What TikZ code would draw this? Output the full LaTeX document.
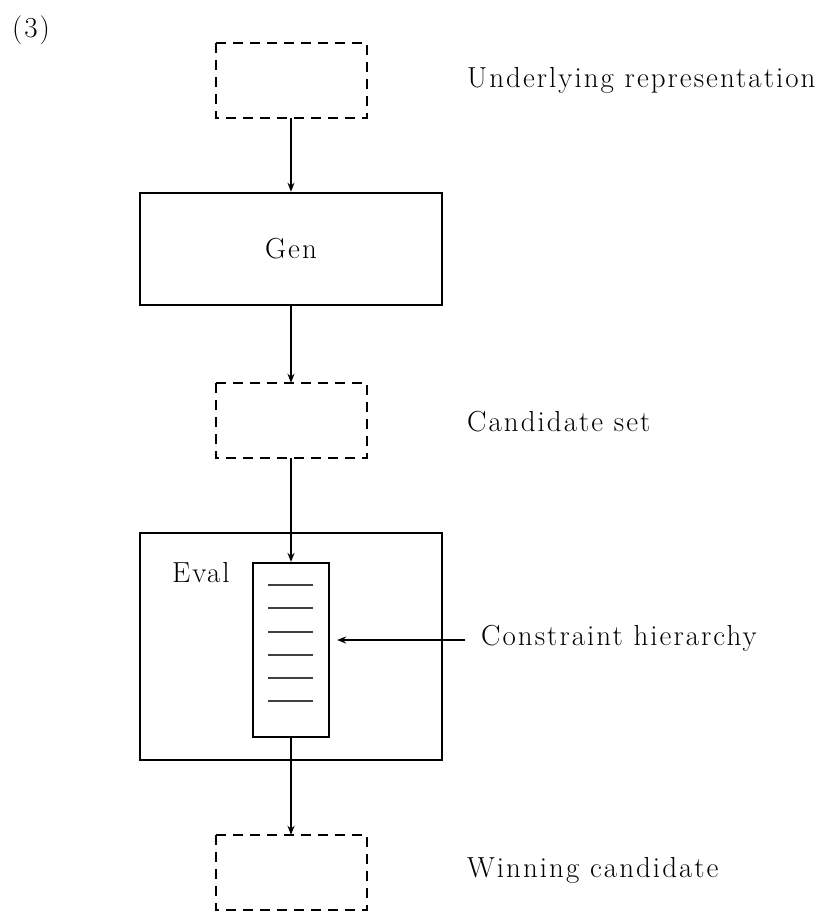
\documentclass[tikz,border=0pt]{standalone}
\usepackage{fontspec}
\newfontfamily\spacedrm{Latin Modern Roman}[LetterSpace=7]
\usetikzlibrary{arrows.meta}
\begin{document}
\begin{tikzpicture}[x=1pt,y=-1pt,
  txt/.style={font=\spacedrm\fontsize{29}{35}\selectfont, inner sep=0pt},
  solidbox/.style={draw, line width=2.6pt},
  dashbox/.style={draw, line width=2.6pt, dash pattern=on 10pt off 7pt},
  flow/.style={line width=2pt, -{Stealth[length=9pt,width=7pt]}},
  rung/.style={line width=1.5pt, black!75}]
\useasboundingbox (0,0) rectangle (819,913);

\node[txt] (num) at (31,30) {(3)};

% input, generator, candidates
\draw[dashbox] (216,43) rectangle (367,118);
\node[minimum width=151pt,minimum height=75pt,inner sep=0pt] (urbox) at (291.5,80.5) {};
\node[txt,anchor=west] (urlab) at (467,80) {Underlying representation};

\node[solidbox,minimum width=302pt,minimum height=112pt,inner sep=0pt,txt] (gen) at (291,249) {Gen};

\node[minimum width=151pt,minimum height=75pt,inner sep=0pt] (cand) at (291.5,420.5) {};
\draw[dashbox] (216,383) rectangle (367,458);
\node[txt,anchor=west] (candlab) at (467,422) {Candidate set};

% evaluator with its constraint ranking
\node[solidbox,minimum width=302pt,minimum height=227pt,inner sep=0pt] (eval) at (291,646.5) {};
\node[txt,anchor=west] (evallab) at (172,573) {Eval};
\node[solidbox,line width=2.2pt,minimum width=76pt,minimum height=174pt,inner sep=0pt] (hier) at (291,650) {};
\foreach \y in {585,608,632,655,678,701}
  \draw[rung] (268,\y) -- (313,\y);
\node[txt,anchor=west] (hierlab) at (481,638) {Constraint hierarchy};

% output
\node[minimum width=151pt,minimum height=75pt,inner sep=0pt] (win) at (291.5,872.5) {};
\draw[dashbox] (216,835) rectangle (367,910);
\node[txt,anchor=west] (winlab) at (467,870) {Winning candidate};

% connectors
\draw[flow] (urbox.south -| gen.north) -- (gen.north);
\draw[flow] (gen.south) -- (cand.north -| gen.south);
\draw[flow] (cand.south -| hier.north) -- (hier.north);
\draw[flow] (hier.south) -- (win.north -| hier.south);
\coordinate (feed) at (465,640);
\draw[flow] (feed) -- ([xshift=7pt]hier.east |- feed);
\end{tikzpicture}
\end{document}
